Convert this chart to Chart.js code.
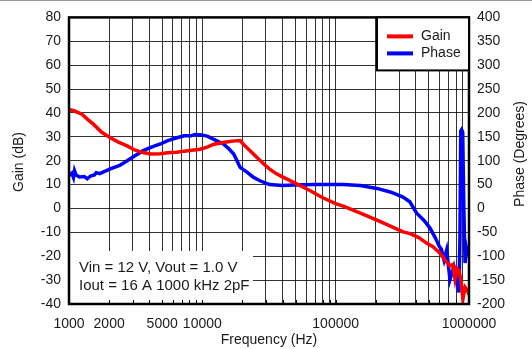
<!DOCTYPE html>
<html lang="en">
<head>
<meta charset="UTF-8">
<title>Gain / Phase</title>
<script src="https://cdn.jsdelivr.net/npm/chart.js"></script>
<style>
  html, body { margin: 0; padding: 0; background: #fff; }
  #wrap { width: 532px; height: 348px; border-top: 1px solid #9a9a9a; position: relative; }
</style>
</head>
<body>
<div id="wrap"><canvas id="bode"></canvas></div>
<script>
// --- data ---
const gainFreq = [1000, 1100, 1250, 1400, 1530, 1750, 2040, 2350, 2730, 3100, 3600, 4100, 4850, 5500, 6450, 7300, 8300, 9660,
  11000, 12200, 14400, 16000, 17700, 19200, 20300, 22500, 25700, 29000, 32000, 36000, 40600, 51000, 64000, 80000,
  100000, 114000, 150000, 204000, 260000, 320000, 362000, 420000, 480000, 537000, 600000, 640000, 680000, 720000,
  755000, 785000, 810000, 840000, 870000, 900000, 935000, 965000, 1000000];
const gainDb = [41.5, 40.8, 39.5, 37, 35.2, 32, 29.6, 27.8, 26.2, 24.5, 23.4, 22.8, 22.9, 23.3, 23.5, 24, 24.4, 24.8,
  25.8, 26.9, 27.6, 28.0, 28.3, 28.4, 26.9, 24.5, 21.3, 18.5, 16.5, 14.5, 13, 10.3, 7.5, 4.5,
  2, 1, -1.7, -4.9, -7.5, -9.8, -10.5, -12.2, -14.5, -16, -18.5, -20.5, -22.5, -24,
  -23.5, -29.5, -25, -26, -30, -38, -33, -34, -36];

const phaseFreq = [1000, 1050, 1080, 1100, 1130, 1200, 1300, 1370, 1450, 1550, 1600, 1700, 2040, 2400, 2730, 3100, 3600,
  4200, 4850, 5500, 6450, 7300, 8200, 8800, 9900, 11000, 12100, 13200, 14400, 15800, 17200, 18200, 19200, 21600,
  24000, 27000, 32000, 40000, 48000, 70000, 114000, 153000, 204000, 260000, 320000, 360000, 405000, 460000, 510000,
  560000, 600000, 620000, 650000, 680000, 720000, 770000, 800000, 841000, 855000, 867000, 880000, 897000, 915000,
  934000, 961000, 980000];
const phaseDeg = [69, 74, 65, 79, 70, 66, 67, 62, 68, 70, 75, 73, 83, 90, 100, 110, 121,
  129, 135, 142, 148, 152, 152, 155, 154, 151, 145, 140, 135, 125, 114, 100, 86, 76,
  66, 58, 50, 48, 49, 50, 50, 48, 42, 34, 24, 14, -10, -25, -41,
  -62, -80, -85, -108, -87, -149, -122, -143, -176, -60, 162, 165, 160, 0,
  -114, -87, -100];

const xLabels = [1000, 2000, 5000, 10000, 100000, 1000000];
const gainTicks = [-40, 80, 10];     // min, max, step
const phaseTicks = [-200, 400, 50];
const yTitles = ['Gain (dB)', 'Phase (Degrees)'];
const noteLines = ['Vin = 12 V, Vout = 1.0 V', 'Iout = 16 A 1000 kHz 2pF'];

const FONT = '"Liberation Sans", Arial, sans-serif';
Chart.defaults.font.family = FONT;
Chart.defaults.color = '#1a1a1a';

function pts(xs, ys) { return xs.map((x, i) => ({ x: x, y: ys[i] })); }

// grid at 1..9 x 10^n
const gridFreqs = [];
for (let d = 1000; d < 1000000; d *= 10) for (let m = 1; m < 10; m++) gridFreqs.push(d * m);
gridFreqs.push(1000000);

function vText(ctx, txt, x, y) {
  ctx.save();
  ctx.translate(x, y);
  ctx.rotate(-Math.PI / 2);
  ctx.textAlign = 'center';
  ctx.textBaseline = 'middle';
  ctx.fillText(txt, 0, 0);
  ctx.restore();
}

// white note box, small bottom ticks, frame, legend, axis titles
const notePlugin = {
  id: 'note',
  beforeDatasetsDraw(chart) {
    const { ctx, chartArea: a, scales } = chart;
    ctx.save();
    ctx.fillStyle = '#fff';
    ctx.fillRect(a.left + 1, 250, 252 - a.left, a.bottom - 250);
    ctx.strokeStyle = '#000';
    ctx.lineWidth = 1;
    gridFreqs.forEach(f => {
      const x = Math.round(scales.x.getPixelForValue(f)) + 0.5;
      ctx.beginPath(); ctx.moveTo(x, a.bottom); ctx.lineTo(x, a.bottom - 4); ctx.stroke();
    });
    ctx.fillStyle = '#1a1a1a';
    ctx.font = '15px ' + FONT;
    ctx.textBaseline = 'middle';
    ctx.fillText(noteLines[0], 79, 267);
    ctx.fillText(noteLines[1], 79, 285);
    ctx.restore();
  },
  afterDatasetsDraw(chart) {
    const { ctx, chartArea: a } = chart;
    ctx.save();
    ctx.strokeStyle = '#000';
    ctx.lineWidth = 2.5;
    ctx.strokeRect(a.left, a.top, a.right - a.left, a.bottom - a.top);
    // legend box
    const lx = 377, ly = a.top, lw = a.right - 377, lh = 53;
    ctx.fillStyle = '#fff';
    ctx.fillRect(lx, ly, lw, lh);
    ctx.lineWidth = 2;
    ctx.strokeRect(lx, ly, lw, lh);
    ctx.font = '14px ' + FONT;
    ctx.textBaseline = 'middle';
    chart.data.datasets.forEach((ds, i) => {
      const y = ly + 19 + i * 17;
      ctx.strokeStyle = ds.borderColor;
      ctx.lineWidth = 4;
      ctx.beginPath(); ctx.moveTo(387, y); ctx.lineTo(413, y); ctx.stroke();
      ctx.fillStyle = '#1a1a1a';
      ctx.fillText(ds.label, 421, y);
    });
    // y axis titles, both reading bottom to top
    ctx.fillStyle = '#1a1a1a';
    vText(ctx, yTitles[0], 19, 161);
    vText(ctx, yTitles[1], 520, 153);
    ctx.restore();
  }
};

new Chart(document.getElementById('bode'), {
  type: 'line',
  data: {
    datasets: [
      { label: 'Gain', data: pts(gainFreq, gainDb), yAxisID: 'y', borderColor: '#ff0000', borderWidth: 3.5, pointRadius: 0, tension: 0 },
      { label: 'Phase', data: pts(phaseFreq, phaseDeg), yAxisID: 'y1', borderColor: '#0000ff', borderWidth: 3.5, pointRadius: 0, tension: 0 }
    ]
  },
  options: {
    responsive: true,
    maintainAspectRatio: false,
    animation: false,
    layout: { padding: { top: 15, left: 0, right: 0, bottom: 0 } },
    plugins: { legend: { display: false }, tooltip: { enabled: false } },
    scales: {
      x: {
        type: 'logarithmic',
        min: 1000, max: 1000000,
        afterBuildTicks: s => { s.ticks = gridFreqs.map(v => ({ value: v })); },
        afterFit: s => { s.height = 45; },
        grid: { color: 'rgba(0,0,0,0.8)', lineWidth: 1, drawTicks: false },
        border: { display: false },
        ticks: {
          autoSkip: false, maxRotation: 0, padding: 12,
          font: { size: 14 },
          callback: v => xLabels.includes(v) ? String(v) : ''
        },
        title: { display: true, text: 'Frequency (Hz)', font: { size: 14 }, padding: { top: 0, bottom: 0 } }
      },
      y: {
        position: 'left',
        min: gainTicks[0], max: gainTicks[1],
        afterFit: s => { s.width = 69; },
        grid: { color: 'rgba(0,0,0,0.8)', lineWidth: 1, drawTicks: false },
        border: { display: false },
        ticks: { stepSize: gainTicks[2], padding: 8, font: { size: 14 } }
      },
      y1: {
        position: 'right',
        min: phaseTicks[0], max: phaseTicks[1],
        afterFit: s => { s.width = 63; },
        grid: { display: false, drawTicks: false },
        border: { display: false },
        ticks: { stepSize: phaseTicks[2], padding: 8, font: { size: 14 } }
      }
    }
  },
  plugins: [notePlugin]
});
</script>
</body>
</html>
